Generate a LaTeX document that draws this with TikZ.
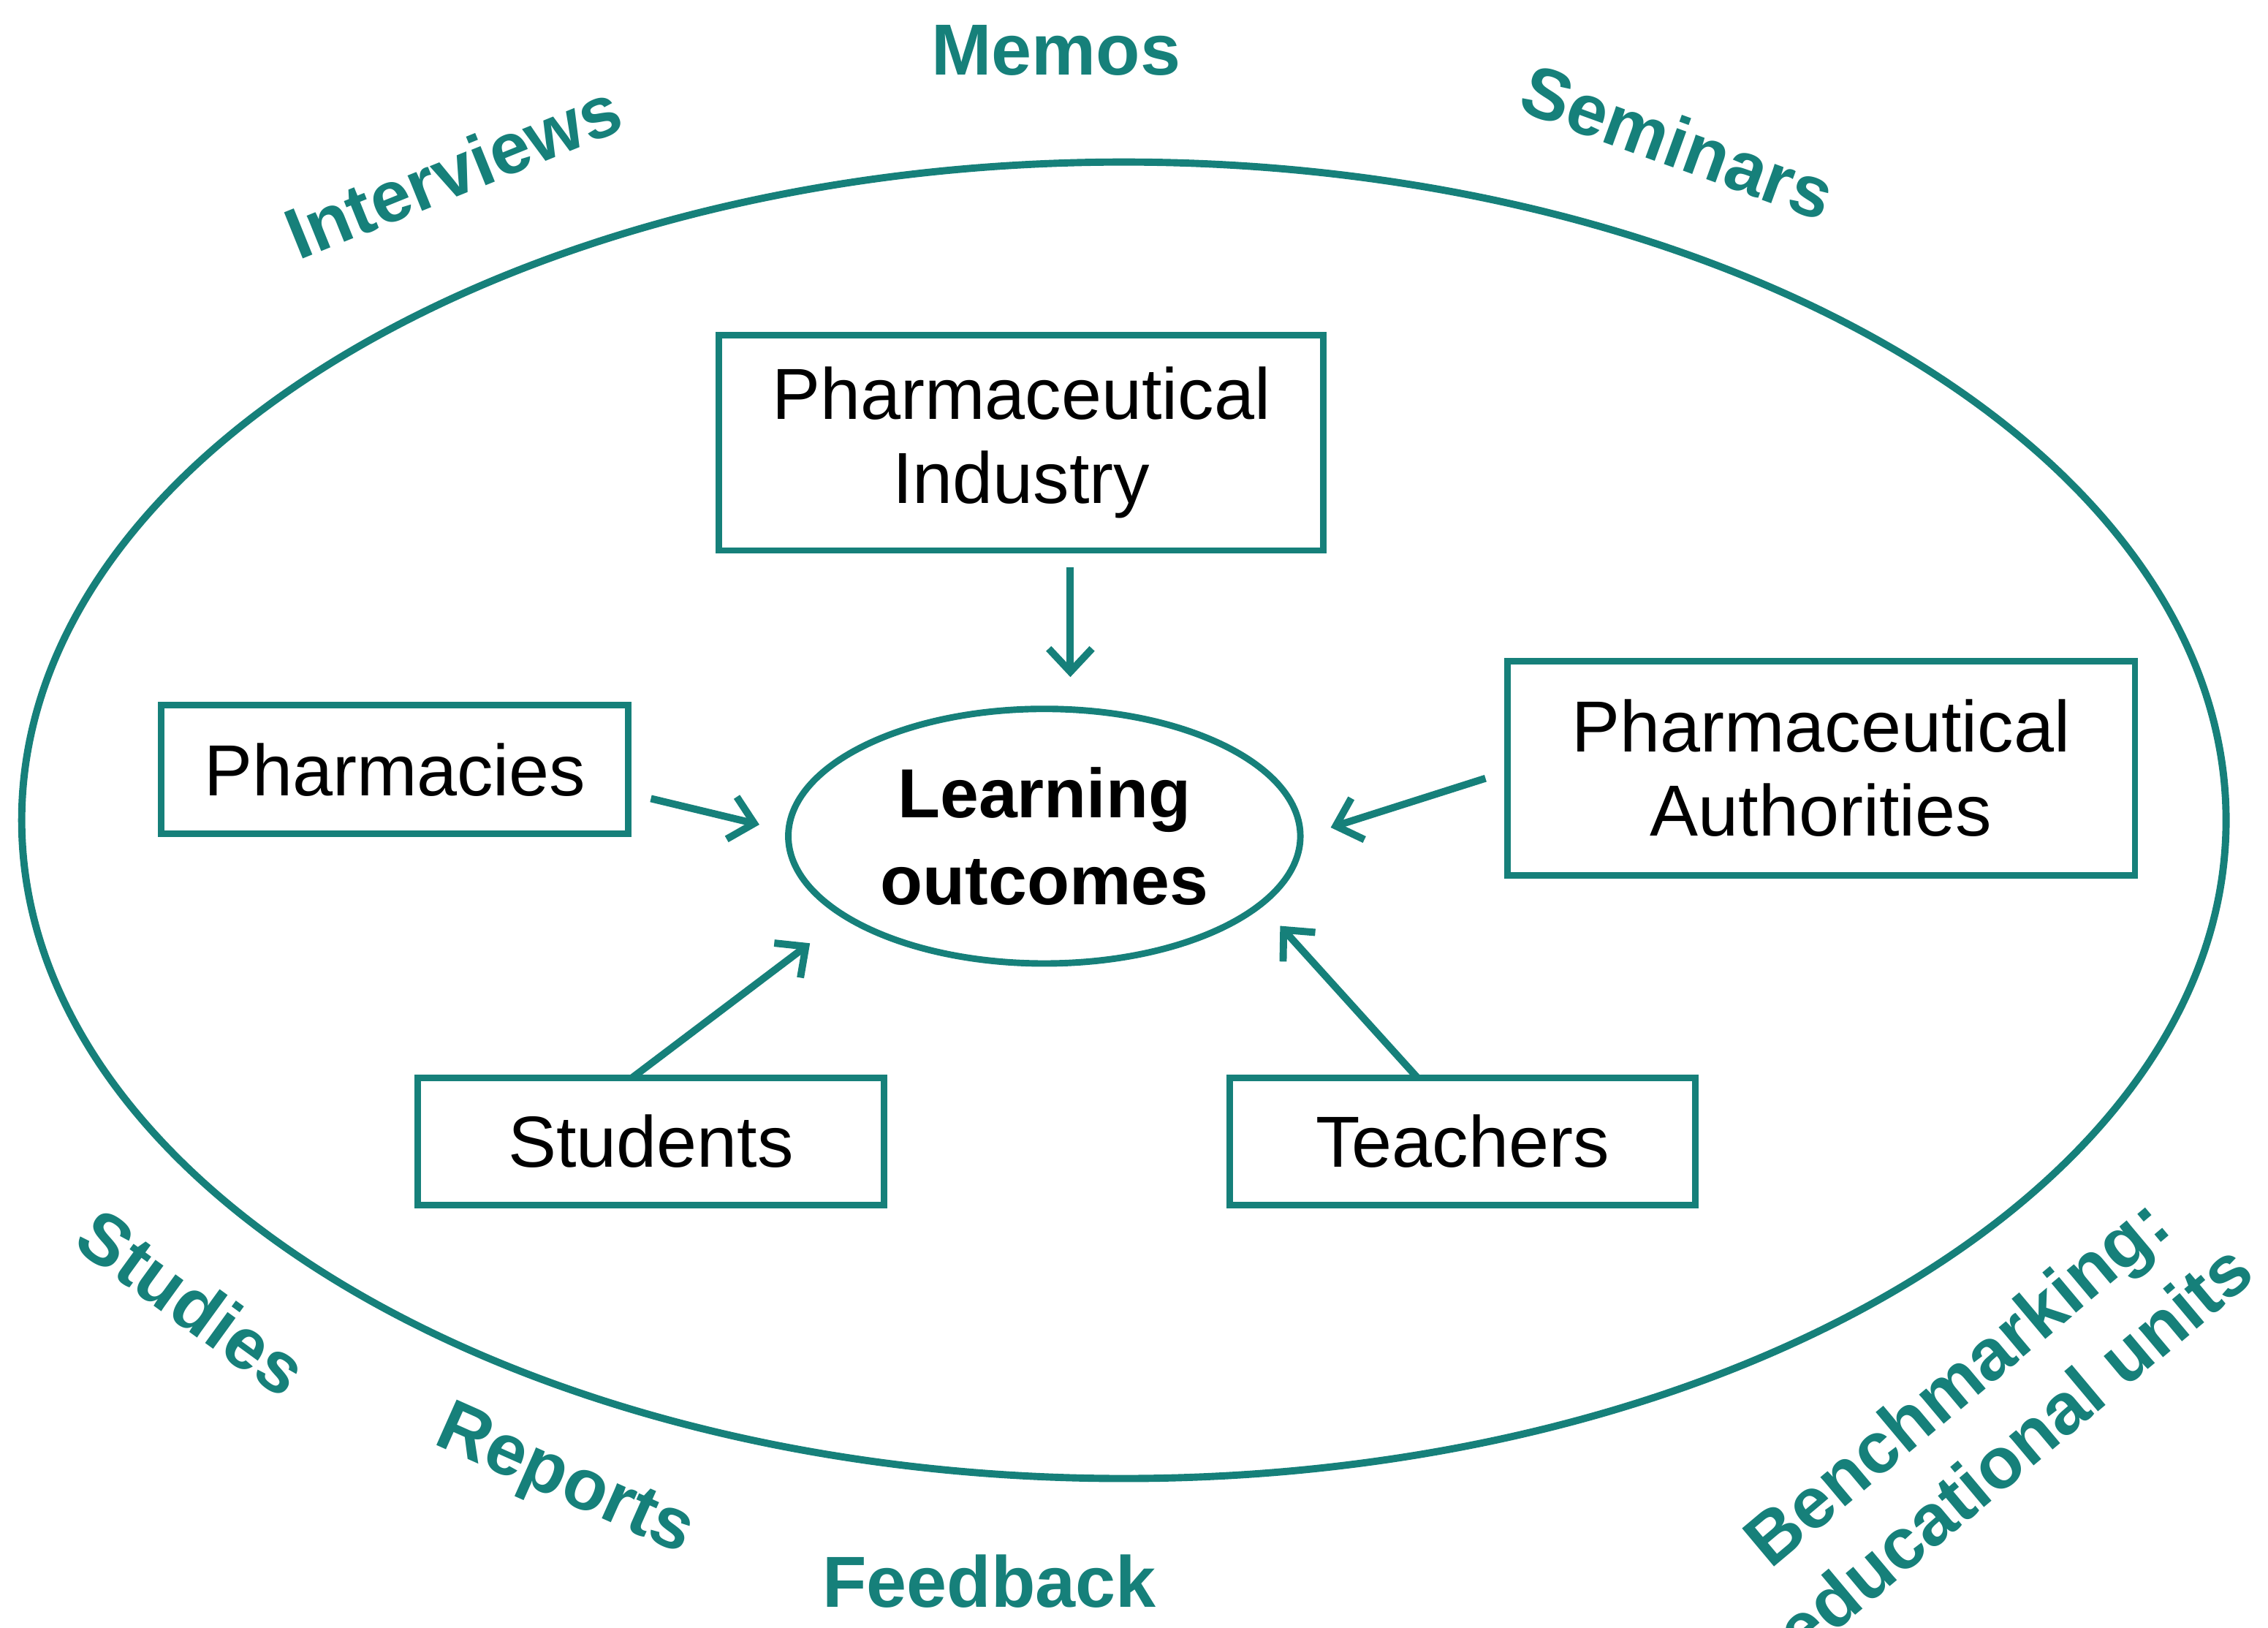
\documentclass[tikz,border=0pt]{standalone}
\usepackage{fontspec}
\setmainfont{Liberation Sans}
\usetikzlibrary{arrows.meta,shapes.geometric}
\definecolor{teal1}{RGB}{22,128,122}
\tikzset{
  box/.style={draw=teal1,line width=4.5pt,font=\fontsize{50}{58}\selectfont,align=center,inner sep=0pt},
  lab/.style={text=teal1,font=\fontsize{50}{56}\selectfont\bfseries,align=center},
  arr/.style={draw=teal1,line width=5pt,-{Straight Barb[length=16pt,width=30pt]}}
}
\begin{document}
\begin{tikzpicture}[x=1pt,y=-1pt]
\useasboundingbox (0,0) rectangle (1568,1125);
\draw[teal1,line width=5pt] (777,567) ellipse [x radius=762,y radius=455];
\node[box,minimum width=418,minimum height=149] (ind) at (706,306) {Pharmaceutical\\Industry};
\node[box,minimum width=323,minimum height=89] (pha) at (273,532) {Pharmacies};
\node[box,minimum width=434,minimum height=148] (aut) at (1259,531) {Pharmaceutical\\Authorities};
\node[box,minimum width=322,minimum height=88] (stu) at (450,789) {Students};
\node[box,minimum width=322,minimum height=88] (tea) at (1011,789) {Teachers};
\node[draw=teal1,line width=4.5pt,ellipse,minimum width=354,minimum height=176,font=\fontsize{48}{60}\selectfont\bfseries,align=center,inner sep=0pt] (lo) at (722,578) {Learning\\outcomes};
\coordinate (a1) at (740,392); \coordinate (b1) at (740,468);
\coordinate (a2) at (450,552); \coordinate (b2) at (525,570);
\coordinate (a3) at (1027,538); \coordinate (b3) at (920,572);
\coordinate (a4) at (437,745); \coordinate (b4) at (560,652);
\coordinate (a5) at (980,745); \coordinate (b5) at (885,640);
\draw[arr] (a1) -- (b1);
\draw[arr] (a2) -- (b2);
\draw[arr] (a3) -- (b3);
\draw[arr] (a4) -- (b4);
\draw[arr] (a5) -- (b5);
\node[lab] (memos) at (730,35) {Memos};
\node[lab,rotate=22] (int) at (313,118) {Interviews};
\node[lab,rotate=-20] (sem) at (1160,98) {Seminars};
\node[lab,rotate=-36] (stud) at (133,900) {Studies};
\node[lab,rotate=-24] (rep) at (390,1025) {Reports};
\node[lab] (fb) at (684,1093) {Feedback};
\node[lab,rotate=40,font=\fontsize{50}{62}\selectfont\bfseries] (bench) at (1372,978) {Benchmarking:\\educational units};
\end{tikzpicture}
\end{document}
